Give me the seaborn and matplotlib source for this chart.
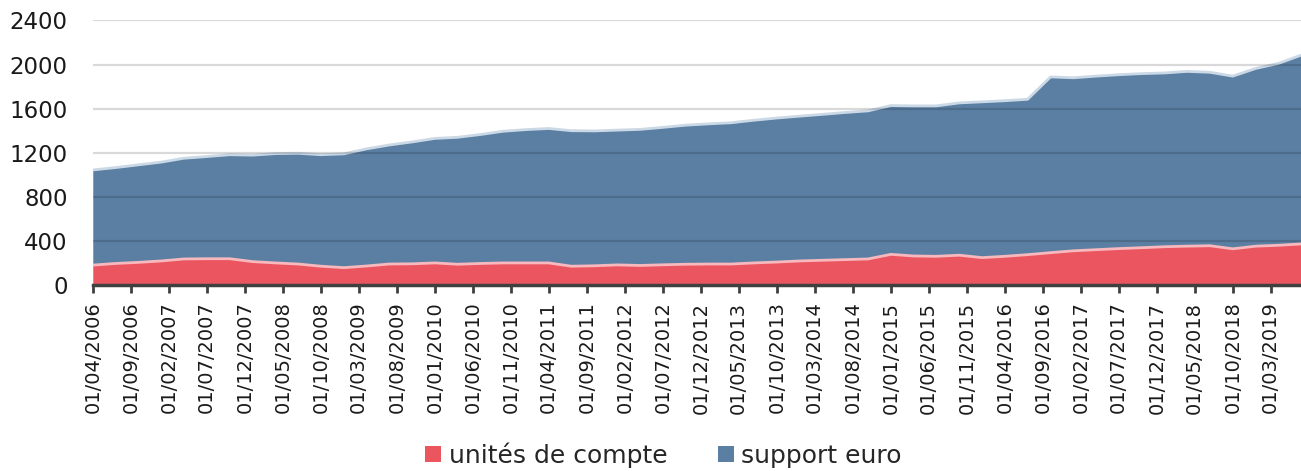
import numpy as np
import pandas as pd
import matplotlib
matplotlib.use("Agg")
import matplotlib.pyplot as plt
import matplotlib.dates as mdates
from matplotlib.patches import Patch
import seaborn as sns

# ---- data (quarterly) ----
dates = pd.date_range("2006-04-01", "2019-07-01", freq="3MS")
total = [1044, 1065, 1090, 1115, 1150, 1165, 1182, 1178, 1192, 1195, 1182, 1190,
         1235, 1270, 1298, 1330, 1340, 1365, 1395, 1410, 1420, 1400, 1398, 1405,
         1412, 1430, 1450, 1462, 1472, 1495, 1515, 1532, 1548, 1565, 1580, 1628,
         1625, 1625, 1652, 1662, 1672, 1685, 1888, 1880, 1895, 1908, 1918, 1924,
         1938, 1930, 1895, 1965, 2010, 2085]
unites_de_compte = [180, 195, 205, 218, 236, 238, 238, 212, 200, 190, 170, 157,
                    172, 190, 192, 200, 188, 195, 200, 200, 200, 170, 174, 182,
                    177, 183, 188, 190, 190, 200, 208, 218, 224, 230, 236, 278,
                    263, 260, 270, 248, 260, 275, 293, 310, 320, 330, 338, 347,
                    352, 356, 328, 352, 360, 372]
support_euro = [t - u for t, u in zip(total, unites_de_compte)]
series_names = ["unités de compte", "support euro"]
y_ticks = [0, 400, 800, 1200, 1600, 2000, 2400]

df = pd.DataFrame({"date": dates,
                   "uc": unites_de_compte,
                   "euro": support_euro})
df["top"] = df["uc"] + df["euro"]

RED = "#eb5560"
BLUE = "#5a7fa3"
RED_EDGE = "#f7b9bd"
BLUE_EDGE = "#cbd9e6"

sns.set_theme(style="white")
plt.rcParams["font.family"] = ["DejaVu Sans"]

fig = plt.figure(figsize=(13.01, 4.71), dpi=100)
ax = fig.add_axes([0.0713, 0.395, 0.9287, 0.5615])

ax.fill_between(df["date"], 0, df["uc"], color=RED, lw=0, zorder=2)
ax.fill_between(df["date"], df["uc"], df["top"], color=BLUE, lw=0, zorder=2)
sns.lineplot(data=df, x="date", y="top", color=BLUE_EDGE, lw=2, ax=ax, zorder=3)
sns.lineplot(data=df, x="date", y="uc", color=RED_EDGE, lw=2, ax=ax, zorder=3)

# gridlines drawn over the areas (slightly darken the blue)
for yv in y_ticks[1:]:
    ax.axhline(yv, color="black", alpha=0.15, lw=1.6, zorder=4)

ax.set_ylim(0, 2400)
ax.set_xlim(dates[0], dates[-1])
ax.set_yticks(y_ticks)
ax.set_yticklabels([str(v) for v in y_ticks], fontsize=16.5, color="#1a1a1a")

ticks = pd.date_range("2006-04-01", "2019-07-01", freq="5MS")
ax.set_xticks(ticks)
ax.set_xticklabels([d.strftime("%d/%m/%Y") for d in ticks], rotation=90,
                   fontsize=14, color="#1a1a1a")
ax.set_xlabel("")
ax.set_ylabel("")

for s in ["top", "right", "left"]:
    ax.spines[s].set_visible(False)
ax.spines["bottom"].set_color("#404040")
ax.spines["bottom"].set_linewidth(2.5)
ax.spines["bottom"].set_zorder(5)
ax.tick_params(axis="x", which="major", direction="out", length=6, width=2,
               color="#404040", pad=6, bottom=True)
ax.tick_params(axis="y", length=0, pad=18)
ax.grid(False)

handles = [Patch(facecolor=RED, edgecolor="none"),
           Patch(facecolor=BLUE, edgecolor="none")]
fig.legend(handles, series_names, loc="center", bbox_to_anchor=(0.51, 0.034),
           ncol=2, frameon=False, fontsize=18, handlelength=0.65,
           handleheight=0.65, handletextpad=0.3, columnspacing=2.0)

fig.savefig("out.png", dpi=100)
